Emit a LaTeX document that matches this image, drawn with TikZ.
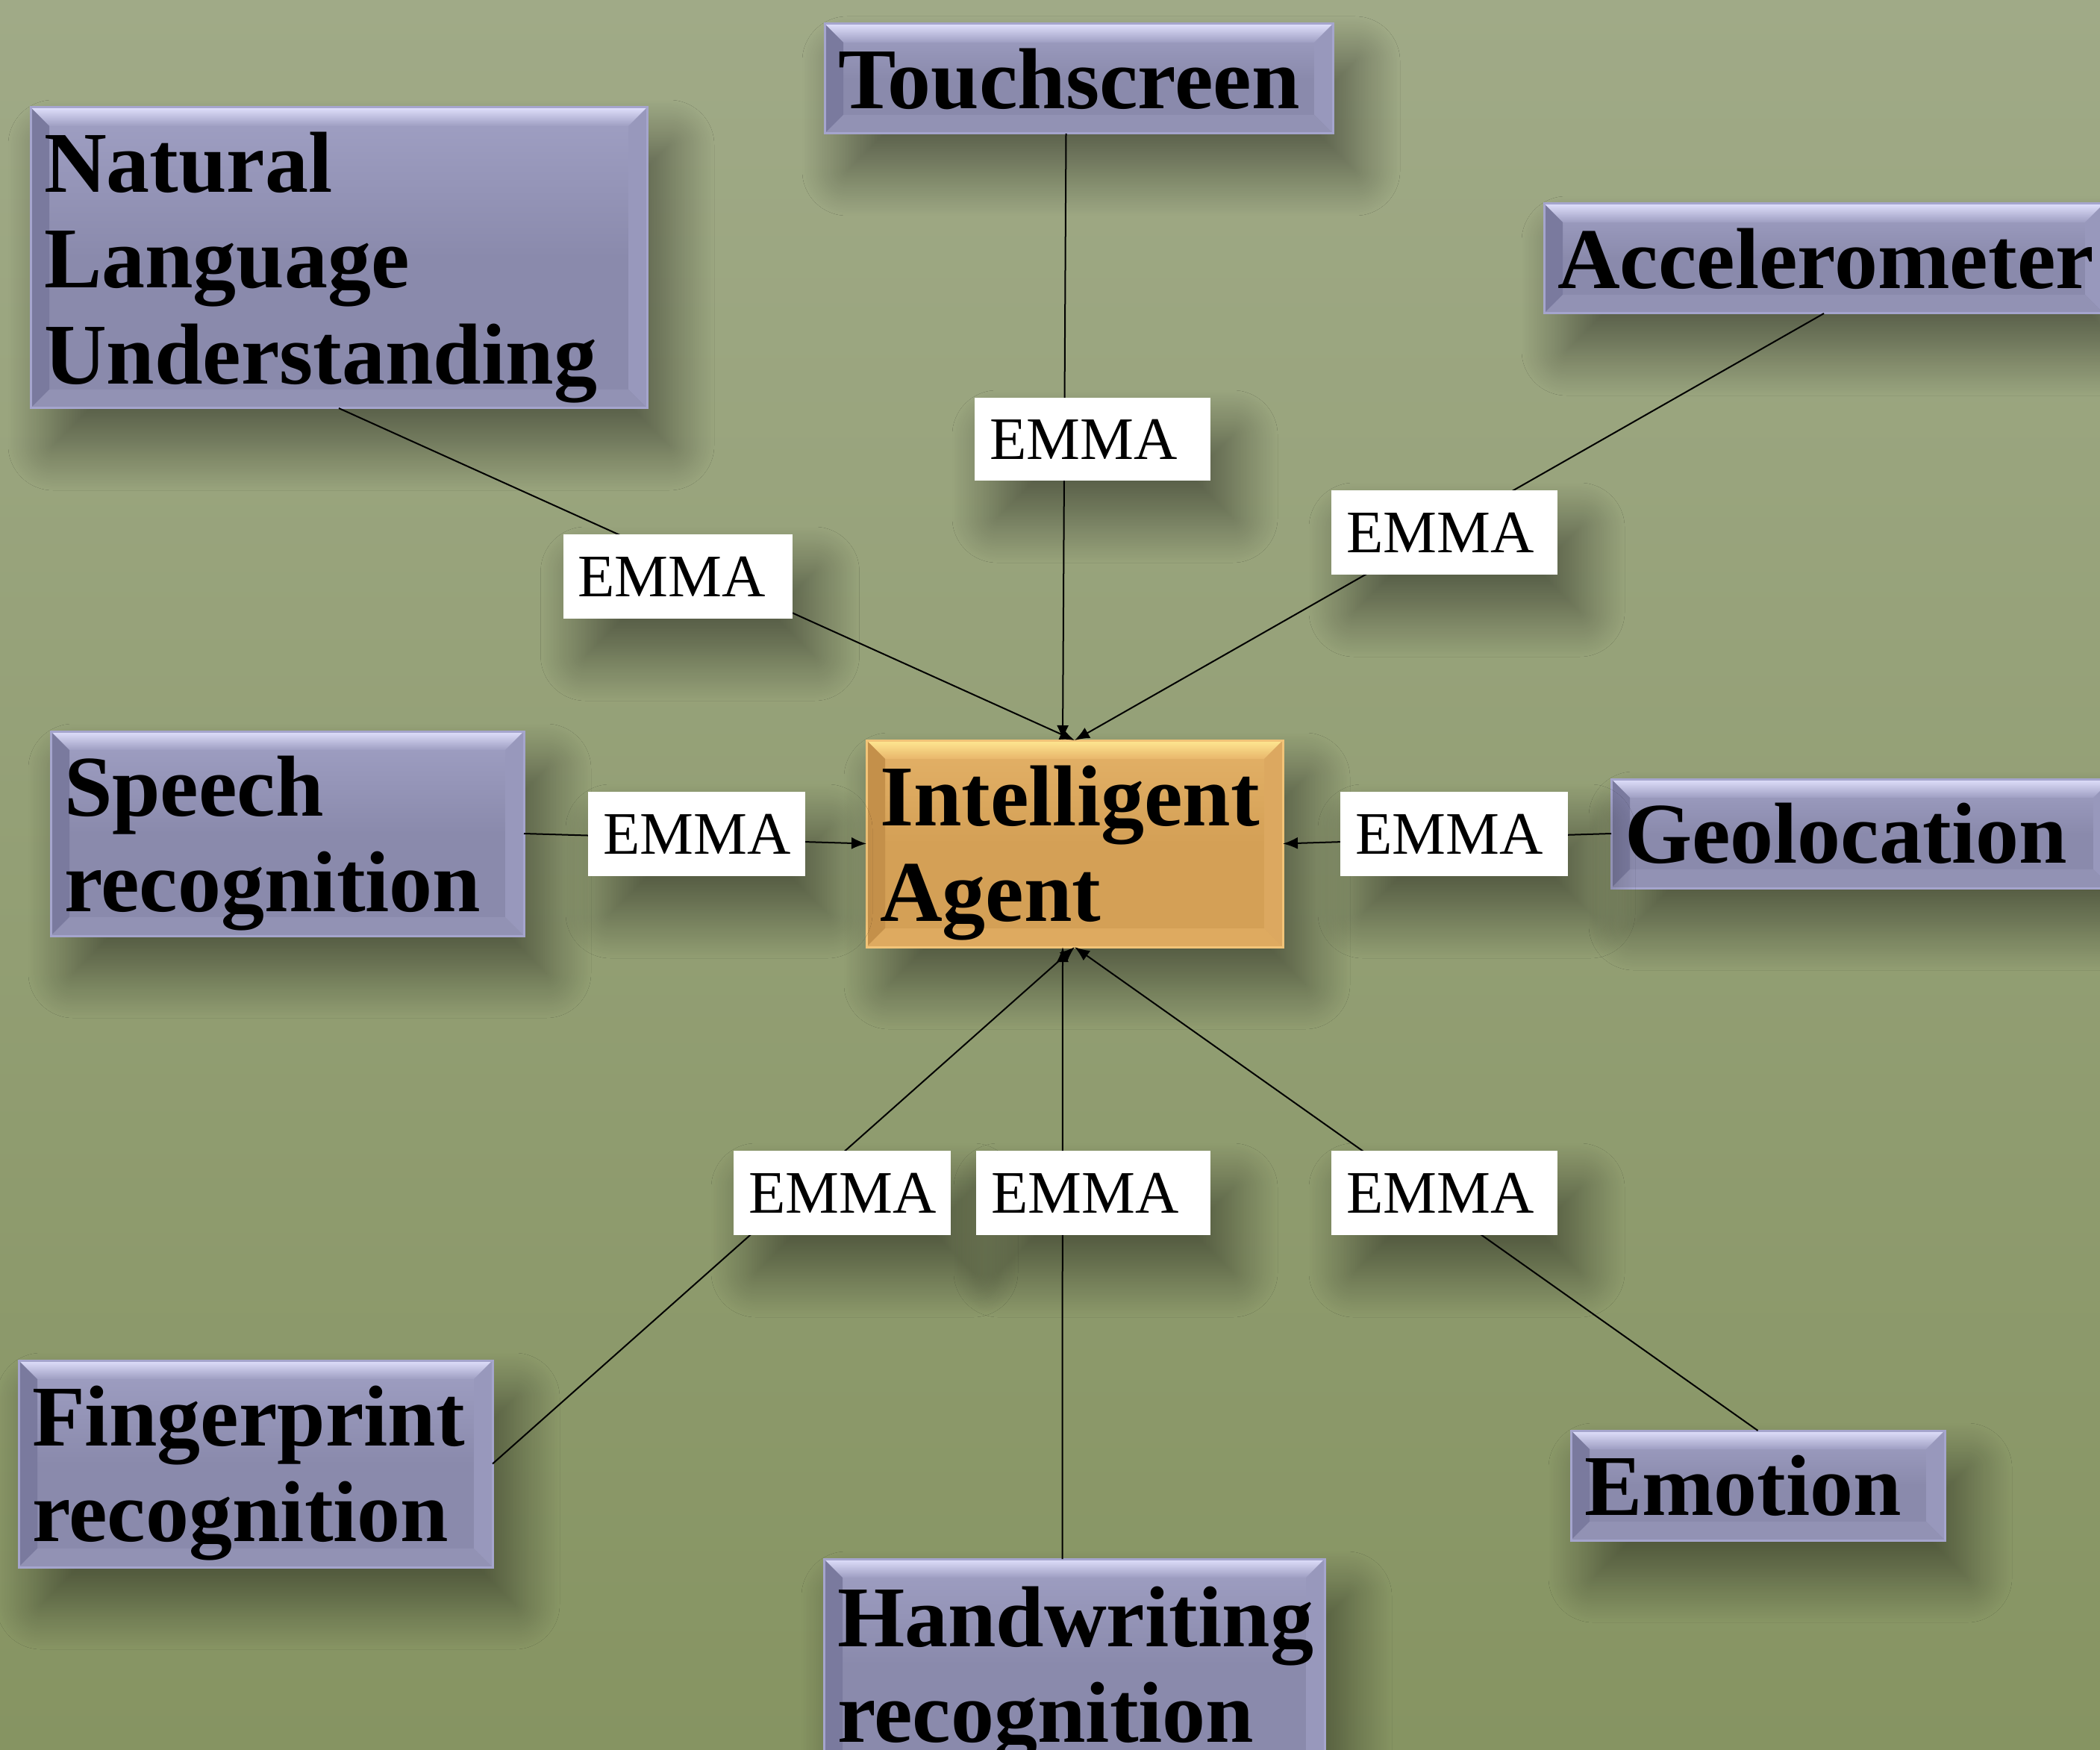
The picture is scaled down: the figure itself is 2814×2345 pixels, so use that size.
\documentclass[tikz,border=0pt]{standalone}
\usepackage{fontspec}
\setmainfont{Liberation Serif}
\usetikzlibrary{arrows.meta,calc,shadows.blur}
\definecolor{bgtop}{RGB}{160,170,135}
\definecolor{bgbot}{RGB}{134,148,98}
\definecolor{bbase}{RGB}{138,138,172}
\definecolor{bhi}{RGB}{160,160,196}
\definecolor{btopA}{RGB}{224,224,252}
\definecolor{btopB}{RGB}{158,158,194}
\definecolor{bleft}{RGB}{122,122,158}
\definecolor{bright}{RGB}{152,152,188}
\definecolor{bbot}{RGB}{146,146,180}
\definecolor{bedge}{RGB}{165,165,205}
\definecolor{abase}{RGB}{212,160,86}
\definecolor{ahi}{RGB}{228,178,104}
\definecolor{atopA}{RGB}{255,232,145}
\definecolor{atopB}{RGB}{232,182,108}
\definecolor{aleft}{RGB}{196,144,74}
\definecolor{aright}{RGB}{220,168,96}
\definecolor{abot}{RGB}{222,170,96}
\definecolor{aedge}{RGB}{242,196,120}
\newcommand\bvw{2.5mm}
\newcommand\nd[1]{\raisebox{0pt}[\height][0pt]{#1}}
\newcommand\mybevel[5]{%
  \coordinate (bNW) at (path picture bounding box.north west);
  \coordinate (bNE) at (path picture bounding box.north east);
  \coordinate (bSW) at (path picture bounding box.south west);
  \coordinate (bSE) at (path picture bounding box.south east);
  \shade[top color=#1,bottom color=#2] (bNW) -- (bNE) -- ($(bNE)+(-\bvw,-\bvw)$) -- ($(bNW)+(\bvw,-\bvw)$) -- cycle;
  \fill[#3] (bNW) -- ($(bNW)+(\bvw,-\bvw)$) -- ($(bSW)+(\bvw,\bvw)$) -- (bSW) -- cycle;
  \fill[#4] (bNE) -- ($(bNE)+(-\bvw,-\bvw)$) -- ($(bSE)+(-\bvw,\bvw)$) -- (bSE) -- cycle;
  \fill[#5] (bSW) -- ($(bSW)+(\bvw,\bvw)$) -- ($(bSE)+(-\bvw,\bvw)$) -- (bSE) -- cycle;
}
\tikzset{
  shad/.style={blur shadow={shadow xshift=3mm,shadow yshift=-5mm,shadow blur radius=6mm,shadow blur steps=30,shadow opacity=45}},
  boxbase/.style={shad, rectangle, inner xsep=1.8mm, inner ysep=0pt, outer sep=0pt, align=left,
    line width=0.3mm, font=\fontsize{33}{36.5}\selectfont\bfseries},
  bluebox/.style={boxbase, draw=bedge, top color=bhi, bottom color=bbase, middle color=bbase,
    path picture={\mybevel{btopA}{btopB}{bleft}{bright}{bbot}}},
  agentbox/.style={boxbase, draw=aedge, top color=ahi, bottom color=abase, middle color=abase,
    path picture={\mybevel{atopA}{atopB}{aleft}{aright}{abot}}},
  sz/.style n args={3}{minimum width=#1, minimum height=#2, text width=#3},
  emma/.style={shad, rectangle, fill=white, inner xsep=2mm, inner ysep=0pt, outer sep=0pt, align=left,
    minimum height=11.3mm, font=\fontsize{23}{27}\selectfont},
  ew/.style n args={2}{minimum width=#1, text width=#2},
  conn/.style={line width=0.2mm, draw=black, -{Latex[length=2mm,width=1.6mm]}}
}
\begin{document}
\begin{tikzpicture}[x=0.1mm,y=-0.1mm]
\useasboundingbox (0,0) rectangle (2814,2345);
\clip (0,0) rectangle (2814,2345);
\shade[top color=bgtop,bottom color=bgbot] (0,0) rectangle (2814,2345);

\node[bluebox, sz={82.6mm}{40.3mm}{79mm}] (nlu) at (454,345.5) {Natural\\Language\\\nd{Understanding}};
\node[bluebox, sz={68.1mm}{14.7mm}{64.5mm}] (touch) at (1445.5,105.5) {Touchscreen};
\node[bluebox, sz={75.0mm}{14.7mm}{71.4mm}] (accel) at (2444,346.5) {Accelerometer};
\node[bluebox, sz={63.4mm}{27.4mm}{59.8mm}] (speech) at (385,1117) {Speech\\\nd{recognition}};
\node[agentbox, sz={55.8mm}{27.7mm}{52.2mm}] (agent) at (1440,1130.5) {Intelligent\\\nd{Agent}};
\node[bluebox, sz={67.1mm}{14.6mm}{63.5mm}] (geo) at (2494.5,1117) {Geolocation};
\node[bluebox, sz={63.5mm}{27.7mm}{59.9mm}] (fp) at (342.5,1961.5) {Fingerprint\\\nd{recognition}};
\node[bluebox, sz={67.1mm}{28.2mm}{63.5mm}] (hw) at (1439.5,2230) {Handwriting\\\nd{recognition}};
\node[bluebox, sz={50.1mm}{14.7mm}{46.5mm}] (emotion) at (2355.5,1990.5) {Emotion};

\draw[conn] (nlu.south) -- (agent.north);
\draw[conn] ($(touch.south)+(-1.7mm,0mm)$) -- ($(agent.north)+(-1.6mm,0mm)$);
\draw[conn] (accel.south) -- (agent.north);
\draw[conn] (speech.east) -- (agent.west);
\draw[conn] (geo.west) -- (agent.east);
\draw[conn] (fp.east) -- (agent.south);
\draw[conn] ($(hw.north)+(-1.6mm,0mm)$) -- ($(agent.south)+(-1.6mm,0mm)$);
\draw[conn] (emotion.north) -- (agent.south);

\node[emma, ew={30.7mm}{26.7mm}] (e1) at (908,772.5) {EMMA};
\node[emma, ew={31.6mm}{27.6mm}, minimum height=11.1mm] (e2) at (1464,588.5) {EMMA};
\node[emma, ew={30.3mm}{26.3mm}] (e3) at (1935.5,713.5) {EMMA};
\node[emma, ew={29.1mm}{25.1mm}] (e4) at (933.5,1117.5) {EMMA};
\node[emma, ew={30.5mm}{26.5mm}] (e5) at (1948.5,1117.5) {EMMA};
\node[emma, ew={29.1mm}{25.1mm}] (e6) at (1128.5,1598.5) {EMMA};
\node[emma, ew={31.4mm}{27.4mm}] (e7) at (1465,1598.5) {EMMA};
\node[emma, ew={30.3mm}{26.3mm}] (e8) at (1935.5,1598.5) {EMMA};
\end{tikzpicture}
\end{document}
